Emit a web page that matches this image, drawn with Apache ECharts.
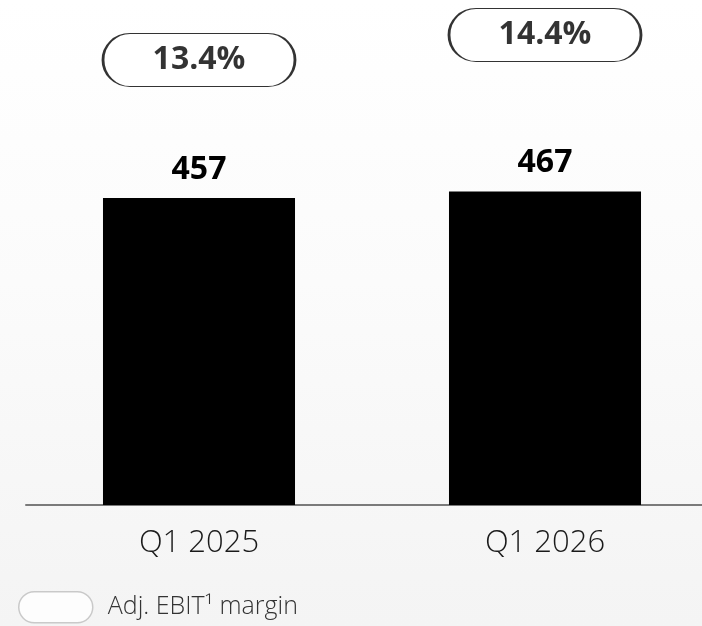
<!DOCTYPE html>
<html>
<head>
<meta charset="utf-8">
<script src="https://cdn.jsdelivr.net/npm/echarts@6/dist/echarts.min.js"></script>
<style>
  html, body { margin: 0; padding: 0; }
  #chart {
    width: 702px;
    height: 626px;
    background: linear-gradient(to bottom, #ffffff 0%, #fbfbfb 45%, #f4f4f4 100%);
  }
</style>
</head>
<body>
<div id="chart"></div>
<script>
const categories = ['Q1 2025', 'Q1 2026']
const adjEbit = [457, 467]
const adjEbitMargin = [13.4, 14.4]
const marginName = 'Adj. EBIT¹ margin'

// stadium shapes for the margin pills and the legend icon
const pillPath = 'path://M27 0H165A27 27 0 0 1 165 54H27A27 27 0 0 1 27 0Z'
const legendPath = 'path://M15.5 0H58.5A15.5 15.5 0 0 1 58.5 31H15.5A15.5 15.5 0 0 1 15.5 0Z'

const chart = echarts.init(document.getElementById('chart'), null, { renderer: 'canvas' })

chart.setOption({
  animation: false,
  backgroundColor: 'transparent',
  grid: { left: 26, width: 692, top: 0, bottom: 121, outerBoundsMode: 'none', containLabel: false },
  legend: {
    left: 18,
    top: 591,
    padding: 0,
    icon: legendPath,
    itemWidth: 74,
    itemHeight: 31,
    itemGap: 16,
    selectedMode: false,
    itemStyle: { color: '#ffffff', borderColor: '#bdbdbd', borderWidth: 1.5 },
    textStyle: { color: '#333333', fontSize: 25, fontFamily: 'Open Sans', fontWeight: 300, padding: [0, 0, 0, 10] },
    data: [marginName]
  },
  xAxis: {
    type: 'category',
    data: categories,
    axisLine: { lineStyle: { color: '#7a7a7a', width: 2 } },
    axisTick: { show: false },
    axisLabel: { color: '#1a1a1a', fontSize: 31, fontFamily: 'Open Sans', fontWeight: 300, margin: 23 }
  },
  yAxis: [
    { type: 'value', min: 0, max: 752, show: false },
    { type: 'value', min: -4.4, max: 15.8, show: false }
  ],
  series: [
    {
      name: 'Adj. EBIT',
      type: 'bar',
      data: adjEbit,
      barWidth: '55.5%',
      itemStyle: { color: '#000000' },
      emphasis: { disabled: true },
      label: {
        show: true,
        position: 'top',
        distance: 12,
        color: '#000000',
        fontSize: 32,
        fontWeight: 'bold',
        fontFamily: 'Open Sans'
      }
    },
    {
      name: marginName,
      type: 'scatter',
      yAxisIndex: 1,
      data: adjEbitMargin,
      symbol: pillPath,
      symbolSize: [192, 53],
      itemStyle: { color: '#ffffff', borderColor: '#000000', borderWidth: 1.5 },
      emphasis: { disabled: true },
      label: {
        show: true,
        position: 'inside',
        formatter: (p) => p.value.toFixed(1) + '%',
        color: '#000000',
        fontSize: 32,
        fontWeight: 'bold',
        fontFamily: 'Open Sans'
      }
    }
  ]
})
</script>
</body>
</html>
